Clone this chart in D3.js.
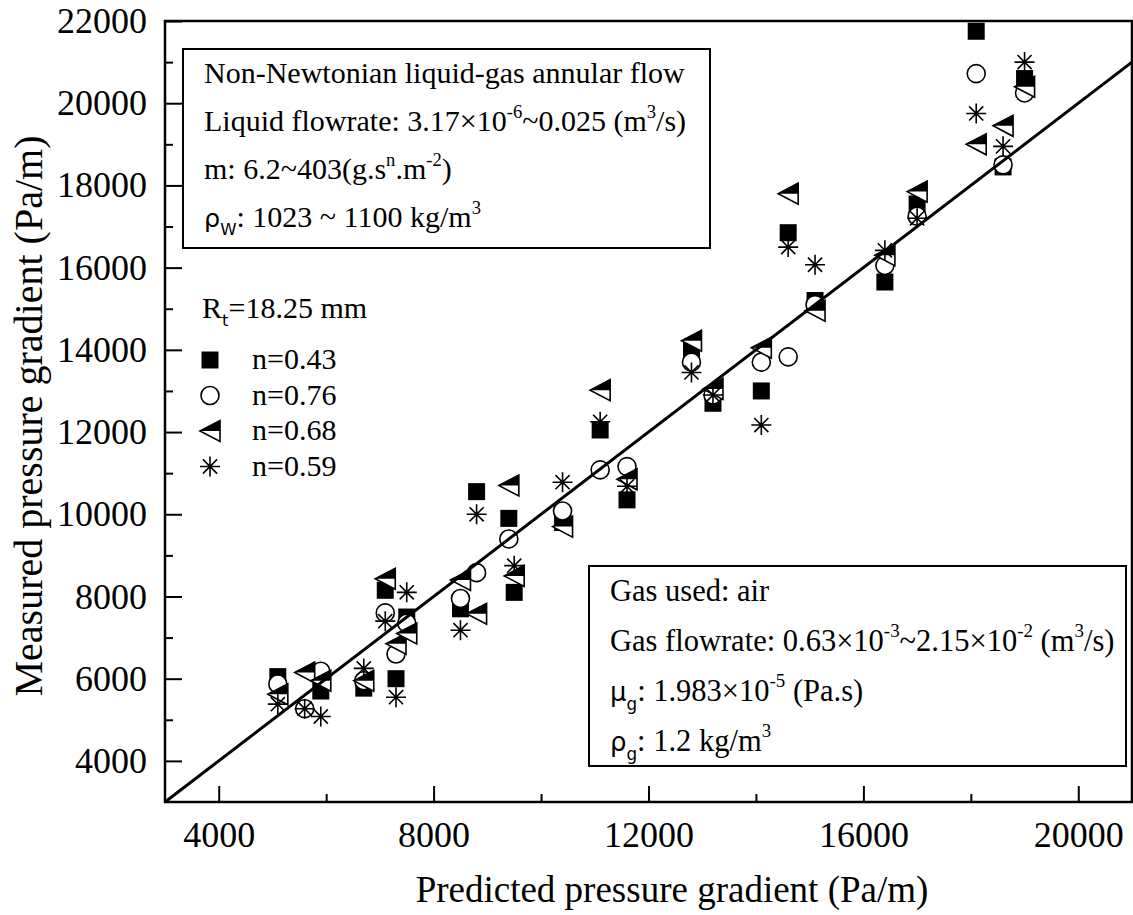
<!DOCTYPE html>
<html>
<head>
<meta charset="utf-8">
<script src="https://cdn.jsdelivr.net/npm/d3@7/dist/d3.min.js"></script>
<style>
body { margin: 0; background: #fff; }
text { font-family: "Liberation Serif", "Times New Roman", serif; fill: #000; }
</style>
</head>
<body>
<script>
// values (Pa/m)
let seriesNames = ["n=0.43", "n=0.76", "n=0.68", "n=0.59"];

let predicted043 = [5100, 5900, 6700, 7300, 7100, 7500, 8500, 8800, 9400, 9500, 10400, 11100, 11600, 12800, 13200, 14100, 14600, 15100, 16400, 17000, 18100, 18600, 19000];
let measured043  = [6050, 5700, 5770, 6000, 8150, 7500, 7700, 10550, 9900, 8100, 9800, 12050, 10350, 14000, 12700, 13000, 16850, 15200, 15650, 17550, 21750, 18450, 20600];

let predicted076 = [5100, 5600, 5900, 6700, 7300, 7100, 7500, 8500, 8800, 9400, 10400, 11100, 11600, 12800, 13200, 14100, 14600, 15100, 16400, 17000, 18100, 18600, 19000];
let measured076  = [5870, 5270, 6180, 5950, 6600, 7600, 7350, 7950, 8580, 9400, 10080, 11080, 11160, 13700, 12900, 13700, 13830, 15100, 16050, 17250, 20720, 18500, 20250];

let predicted068 = [5100, 5600, 5900, 6700, 7300, 7100, 7500, 8500, 8800, 9400, 9500, 10400, 11100, 11600, 12800, 13200, 14100, 14600, 15100, 16400, 17000, 18100, 18600, 19000];
let measured068  = [5620, 6150, 5950, 5950, 6850, 8430, 7100, 8400, 7580, 10700, 8500, 9700, 13020, 10850, 14220, 13050, 14050, 17800, 14950, 16300, 17850, 19000, 19450, 20400];

let predicted059 = [5100, 5600, 5900, 6700, 7300, 7100, 7500, 8500, 8800, 9500, 10400, 11100, 11600, 12800, 13200, 14100, 14600, 15100, 16400, 17000, 18100, 18600, 19000];
let measured059  = [5380, 5270, 5080, 6250, 5550, 7400, 8100, 7180, 10000, 8750, 10780, 12250, 10680, 13450, 12900, 12170, 16500, 16070, 16420, 17200, 19750, 18950, 21000];

// the 1:1 line
let parityLine = [3000, 21000];

let xMajor = [4000, 8000, 12000, 16000, 20000];
let xMinor = [6000, 10000, 14000, 18000];
let yMajor = [4000, 6000, 8000, 10000, 12000, 14000, 16000, 18000, 20000, 22000];
let yMinor = [5000, 7000, 9000, 11000, 13000, 15000, 17000, 19000, 21000];

let svg = d3.select("body").append("svg")
	.attr("width", 1133)
	.attr("height", 915);

let margin = {top: 21, right: 1, bottom: 113, left: 165};
let width = 1133 - margin.left - margin.right;
let height = 915 - margin.top - margin.bottom;

let x = d3.scaleLinear().domain([3000, 21000]).range([margin.left, margin.left + width]);
let y = d3.scaleLinear().domain([3000, 22000]).range([margin.top + height, margin.top]);

// axes, ticks pointing inside
svg.append("g")
	.attr("transform", `translate(0, ${margin.top + height})`)
	.call(d3.axisBottom(x).tickValues(xMajor).tickSize(-16).tickPadding(19).tickFormat(d3.format("d")));
svg.append("g")
	.attr("transform", `translate(0, ${margin.top + height})`)
	.call(d3.axisBottom(x).tickValues(xMinor).tickSize(-8).tickFormat(""));

svg.append("g")
	.attr("transform", `translate(${margin.left}, 0)`)
	.call(d3.axisLeft(y).tickValues(yMajor).tickSize(-17).tickPadding(18).tickFormat(d3.format("d")));
svg.append("g")
	.attr("transform", `translate(${margin.left}, 0)`)
	.call(d3.axisLeft(y).tickValues(yMinor).tickSize(-8).tickFormat(""));

svg.selectAll(".domain").remove();
svg.selectAll(".tick line").attr("stroke", "#000").attr("stroke-width", 2);
svg.selectAll(".tick text")
	.attr("font-family", "Liberation Serif, Times New Roman, serif")
	.attr("font-size", 36)
	.attr("fill", "#000");

// frame
svg.append("rect")
	.attr("x", margin.left)
	.attr("y", margin.top)
	.attr("width", width)
	.attr("height", height)
	.attr("fill", "none")
	.attr("stroke", "#000")
	.attr("stroke-width", 2.5);

// axis titles
svg.append("text")
	.attr("x", 672)
	.attr("y", 902)
	.attr("text-anchor", "middle")
	.attr("font-size", 37)
	.text("Predicted pressure gradient (Pa/m)");

svg.append("text")
	.attr("transform", "translate(42, 416) rotate(-90)")
	.attr("text-anchor", "middle")
	.attr("font-size", 40)
	.text("Measured pressure gradient (Pa/m)");

// marker shapes
let squarePath = d3.symbol().type(d3.symbolSquare).size(17 * 17)();
let circlePath = d3.symbol().type(d3.symbolCircle).size(Math.PI * 9 * 9)();
let triOutline = "M-10,0L10,-10.5L10,10.5Z";
let triTop = "M-10,0L10,-10.5L10,0Z";
let starPath = (function() {
	let r = 10, p = "";
	[0, 45, 90, 135].forEach(a => {
		let c = Math.cos(a * Math.PI / 180) * r, s = Math.sin(a * Math.PI / 180) * r;
		p += `M${-c},${-s}L${c},${s}`;
	});
	return p;
})();

function drawSquare(g) {
	g.append("path").attr("d", squarePath).attr("fill", "#000");
}
function drawCircle(g) {
	g.append("path").attr("d", circlePath).attr("fill", "#fff").attr("stroke", "#000").attr("stroke-width", 1.6);
}
function drawTriangle(g) {
	g.append("path").attr("d", triOutline).attr("fill", "#fff").attr("stroke", "#000").attr("stroke-width", 1.6);
	g.append("path").attr("d", triTop).attr("fill", "#000");
}
function drawStar(g) {
	g.append("path").attr("d", starPath).attr("fill", "none").attr("stroke", "#000").attr("stroke-width", 1.6);
}

let series = [
	{xs: predicted043, ys: measured043, draw: drawSquare},
	{xs: predicted076, ys: measured076, draw: drawCircle},
	{xs: predicted068, ys: measured068, draw: drawTriangle},
	{xs: predicted059, ys: measured059, draw: drawStar}
];

series.forEach(s => {
	let pts = svg.append("g").selectAll("g")
		.data(s.xs.map((v, i) => [v, s.ys[i]]))
		.enter().append("g")
		.attr("transform", d => `translate(${x(d[0])}, ${y(d[1])})`);
	pts.each(function() { s.draw(d3.select(this)); });
});

// 1:1 line
svg.append("path")
	.datum(parityLine)
	.attr("d", d3.line().x(d => x(d)).y(d => y(d)))
	.attr("stroke", "#000")
	.attr("stroke-width", 3)
	.attr("fill", "none");

// text with super/subscripts, greek letters in a sans face like the original
function richText(g, px, py, size, parts) {
	let t = g.append("text").attr("x", px).attr("y", py).attr("font-size", size);
	let shift = 0;
	parts.forEach(p => {
		let seg = typeof p === "string" ? {t: p} : p;
		let target = seg.sup ? -size * 0.45 : seg.sub ? size * 0.28 : 0;
		let sp = t.append("tspan").attr("dy", target - shift).text(seg.t !== undefined ? seg.t : (seg.gr || seg.sup || seg.sub));
		if (seg.sup || seg.sub) sp.attr("font-size", size * 0.62);
		if (seg.sub) sp.attr("font-family", "DejaVu Sans, sans-serif").attr("font-size", size * 0.55);
		if (seg.gr) sp.attr("font-family", "DejaVu Sans, sans-serif").attr("font-size", size * 0.85);
		shift = target;
	});
	return t;
}

// upper-left info box
svg.append("rect")
	.attr("x", 183).attr("y", 49).attr("width", 527).attr("height", 199)
	.attr("fill", "#fff").attr("stroke", "#000").attr("stroke-width", 2);

let box1 = [
	["Non-Newtonian liquid-gas annular flow"],
	["Liquid flowrate: 3.17×10", {sup: "-6"}, "~0.025 (m", {sup: "3"}, "/s)"],
	["m: 6.2~403(g.s", {sup: "n"}, ".m", {sup: "-2"}, ")"],
	[{gr: "ρ"}, {sub: "W"}, ": 1023 ~ 1100 kg/m", {sup: "3"}]
];
box1.forEach((line, i) => richText(svg, 204, 83 + i * 48, 30, line));

// lower-right info box
svg.append("rect")
	.attr("x", 589).attr("y", 566).attr("width", 537).attr("height", 200)
	.attr("fill", "#fff").attr("stroke", "#000").attr("stroke-width", 2);

let box2 = [
	["Gas used: air"],
	["Gas flowrate: 0.63×10", {sup: "-3"}, "~2.15×10", {sup: "-2"}, " (m", {sup: "3"}, "/s)"],
	[{gr: "μ"}, {sub: "g"}, ": 1.983×10", {sup: "-5"}, " (Pa.s)"],
	[{gr: "ρ"}, {sub: "g"}, ": 1.2 kg/m", {sup: "3"}]
];
box2.forEach((line, i) => richText(svg, 610, 601 + i * 50, 30.5, line));

// legend
richText(svg, 202, 318, 30, ["R", {sup: undefined, t: undefined, sub: "t"}, "=18.25 mm"]);

let legendDraw = [drawSquare, drawCircle, drawTriangle, drawStar];
seriesNames.forEach((name, i) => {
	let by = 369 + i * 35.5;
	let g = svg.append("g").attr("transform", `translate(210, ${by - 9})`);
	legendDraw[i](g);
	svg.append("text").attr("x", 252).attr("y", by).attr("font-size", 30).text(name);
});
</script>
</body>
</html>
